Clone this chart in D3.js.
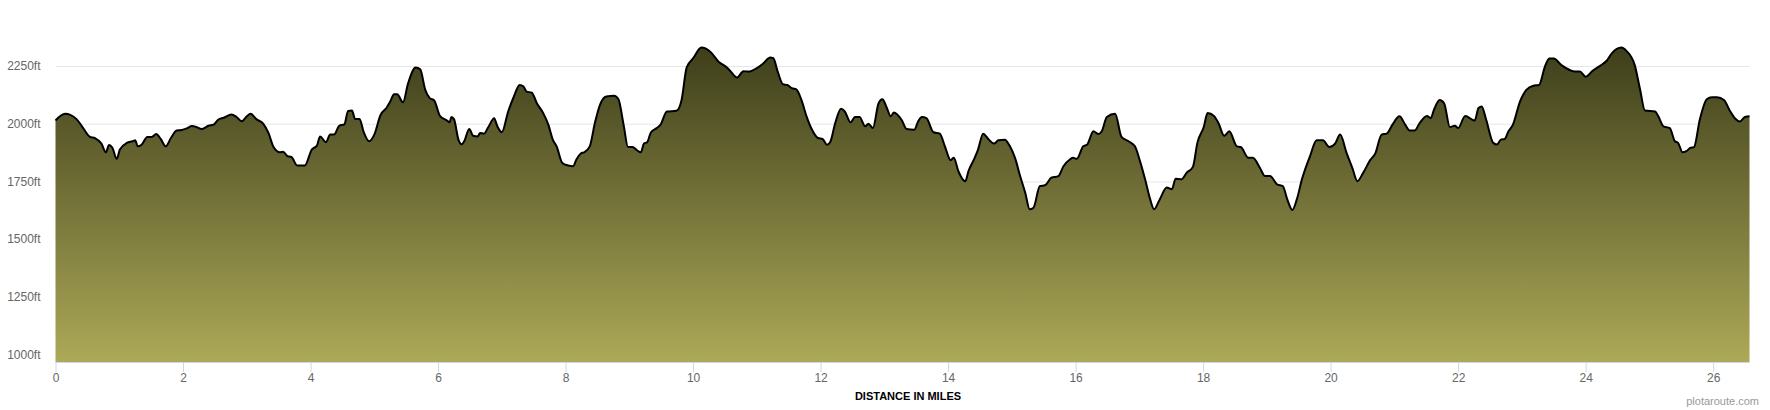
<!DOCTYPE html>
<html>
<head>
<meta charset="utf-8">
<script src="https://cdn.jsdelivr.net/npm/d3@7"></script>
<style>
  body { margin: 0; background: #fff; }
  .chart { width: 1770px; height: 410px; }
  .tick text { font-family: "Liberation Sans", Arial, sans-serif; font-size: 12px; fill: #666; }
</style>
</head>
<body>
<div class="chart"></div>
<script>
const width = 1770;
const height = 410;
const margin = {top: 40, left: 55.5, right: 20.5, bottom: 48} // plot area: x 55.5..1749.5, y 40..362

// distance along the route (miles) and elevation (ft)
const distances = [
  0, 0.15, 0.33, 0.41, 0.54, 0.62, 0.72, 0.79, 0.84, 0.89, 0.96, 1.01, 1.12, 1.21, 1.25, 1.29, 1.35, 1.44, 1.51, 1.58,
  1.65, 1.73, 1.81, 1.9, 1.98, 2.06, 2.14, 2.21, 2.29, 2.4, 2.48, 2.55, 2.64, 2.76, 2.84, 2.92, 3.0, 3.06, 3.15, 3.26,
  3.34, 3.42, 3.52, 3.57, 3.64, 3.7, 3.79, 3.91, 4.02, 4.1, 4.15, 4.24, 4.31, 4.37, 4.45, 4.53, 4.59, 4.65, 4.7, 4.77,
  4.83, 4.92, 5.0, 5.1, 5.19, 5.25, 5.31, 5.36, 5.45, 5.53, 5.65, 5.72, 5.8, 5.87, 5.94, 6.03, 6.14, 6.18, 6.21, 6.25,
  6.32, 6.37, 6.41, 6.49, 6.55, 6.62, 6.66, 6.72, 6.79, 6.88, 6.93, 7.0, 7.1, 7.19, 7.28, 7.34, 7.39, 7.47, 7.55, 7.65,
  7.73, 7.8, 7.86, 7.95, 8.04, 8.12, 8.17, 8.24, 8.29, 8.38, 8.46, 8.54, 8.64, 8.76, 8.83, 8.91, 8.98, 9.05, 9.12, 9.18,
  9.23, 9.28, 9.34, 9.43, 9.49, 9.59, 9.74, 9.82, 9.9, 10.0, 10.13, 10.27, 10.4, 10.53, 10.58, 10.69, 10.79, 10.87, 11.0, 11.1,
  11.21, 11.26, 11.32, 11.41, 11.48, 11.55, 11.62, 11.7, 11.78, 11.86, 11.96, 12.03, 12.1, 12.15, 12.23, 12.32, 12.38, 12.47, 12.54, 12.61,
  12.7, 12.75, 12.82, 12.91, 12.97, 13.04, 13.1, 13.15, 13.27, 13.35, 13.47, 13.53, 13.59, 13.66, 13.77, 13.87, 13.95, 14.04, 14.09, 14.16,
  14.27, 14.32, 14.41, 14.47, 14.55, 14.63, 14.72, 14.79, 14.89, 14.97, 15.05, 15.13, 15.21, 15.28, 15.34, 15.44, 15.52, 15.62, 15.73, 15.81,
  15.91, 15.96, 16.02, 16.12, 16.18, 16.28, 16.36, 16.41, 16.49, 16.62, 16.72, 16.83, 16.93, 17.01, 17.09, 17.17, 17.23, 17.32, 17.43, 17.51,
  17.57, 17.66, 17.74, 17.84, 17.91, 18.01, 18.07, 18.17, 18.24, 18.33, 18.41, 18.53, 18.59, 18.71, 18.78, 18.89, 18.97, 19.05, 19.16, 19.25,
  19.32, 19.4, 19.47, 19.55, 19.68, 19.78, 19.88, 19.98, 20.07, 20.15, 20.25, 20.34, 20.42, 20.51, 20.62, 20.7, 20.8, 20.88, 20.97, 21.08,
  21.17, 21.24, 21.32, 21.39, 21.51, 21.57, 21.62, 21.71, 21.78, 21.87, 21.95, 22.0, 22.11, 22.26, 22.32, 22.37, 22.44, 22.55, 22.61, 22.67,
  22.73, 22.79, 22.86, 22.97, 23.07, 23.18, 23.27, 23.36, 23.43, 23.5, 23.62, 23.75, 23.83, 23.91, 24.0, 24.11, 24.22, 24.33, 24.41, 24.56,
  24.64, 24.77, 24.85, 24.93, 25.09, 25.14, 25.22, 25.32, 25.4, 25.45, 25.52, 25.58, 25.64, 25.7, 25.79, 25.9, 25.98, 26.06, 26.17, 26.26,
  26.34, 26.42, 26.5, 26.57
]
const elevations = [
  2014, 2043, 2020, 1991, 1943, 1937, 1914, 1876, 1908, 1897, 1848, 1888, 1917, 1924, 1928, 1902, 1909, 1943, 1943, 1955,
  1934, 1902, 1938, 1971, 1973, 1980, 1990, 1986, 1977, 1991, 1996, 2017, 2026, 2040, 2029, 2011, 2032, 2043, 2020, 1999,
  1960, 1899, 1876, 1879, 1859, 1856, 1819, 1819, 1888, 1905, 1945, 1920, 1953, 1953, 1991, 1997, 2055, 2057, 2020, 2020,
  1967, 1924, 1953, 2039, 2068, 2096, 2128, 2128, 2093, 2175, 2244, 2236, 2147, 2111, 2101, 2034, 2014, 2006, 2029, 2020,
  1931, 1911, 1924, 1977, 1948, 1945, 1960, 1957, 1986, 2024, 1989, 1963, 2053, 2118, 2168, 2161, 2139, 2135, 2089, 2046,
  1996, 1931, 1902, 1830, 1819, 1816, 1845, 1871, 1876, 1902, 2003, 2082, 2118, 2121, 2106, 1996, 1899, 1899, 1885, 1876,
  1914, 1920, 1963, 1981, 1996, 2053, 2056, 2103, 2244, 2283, 2330, 2312, 2269, 2244, 2230, 2200, 2228, 2226, 2241, 2261,
  2287, 2284, 2233, 2171, 2168, 2154, 2149, 2103, 2032, 1977, 1938, 1934, 1909, 1920, 2003, 2065, 2053, 2006, 2029, 2029,
  1989, 2000, 1981, 2089, 2106, 2068, 2032, 2049, 2017, 1977, 1974, 2010, 2029, 2024, 1963, 1957, 1902, 1842, 1852, 1795,
  1751, 1795, 1848, 1888, 1957, 1934, 1914, 1928, 1931, 1902, 1852, 1773, 1701, 1629, 1636, 1730, 1733, 1766, 1773, 1816,
  1845, 1852, 1848, 1902, 1909, 1967, 1955, 1967, 2029, 2043, 1943, 1924, 1902, 1838, 1759, 1672, 1629, 1672, 1723, 1716,
  1761, 1759, 1787, 1813, 1917, 1986, 2046, 2034, 2003, 1948, 1967, 1902, 1899, 1852, 1852, 1809, 1773, 1773, 1737, 1730,
  1672, 1626, 1672, 1759, 1862, 1928, 1928, 1899, 1914, 1953, 1874, 1809, 1751, 1787, 1842, 1871, 1953, 1957, 1996, 2032,
  1996, 1971, 1971, 2000, 2034, 2024, 2060, 2103, 2089, 1986, 1991, 1981, 2034, 2014, 2068, 2075, 2017, 1917, 1910, 1931,
  1934, 1967, 1996, 2096, 2147, 2165, 2168, 2247, 2283, 2283, 2254, 2233, 2226, 2226, 2204, 2230, 2250, 2273, 2305, 2330,
  2316, 2254, 2154, 2057, 2053, 2032, 1989, 1981, 1924, 1917, 1876, 1881, 1895, 1899, 2017, 2106, 2115, 2115, 2103, 2057,
  2024, 2010, 2029, 2032
]
const xTicks = [0, 2, 4, 6, 8, 10, 12, 14, 16, 18, 20, 22, 24, 26]
const yTicks = [1000, 1250, 1500, 1750, 2000, 2250]
const xAxisLabel = 'DISTANCE IN MILES'
const credit = 'plotaroute.com'

const data = distances.map((d, i) => ({dist: d, elev: elevations[i]}))

const svg = d3.select('.chart')
  .append('svg')
  .attr('width', width)
  .attr('height', height)

const xScale = d3.scaleLinear()
  .domain([0, d3.max(distances)])
  .range([margin.left, width - margin.right])

const yScale = d3.scaleLinear()
  .domain([967, 2363])
  .range([height - margin.bottom, margin.top])

// fill gradient, dark at the top of the profile, light olive at the bottom
const grad = svg.append('defs').append('linearGradient')
  .attr('id', 'fillGrad')
  .attr('x1', 0).attr('y1', 0).attr('x2', 0).attr('y2', 1)
grad.append('stop').attr('offset', '0%').attr('stop-color', '#3e3e1b')
grad.append('stop').attr('offset', '100%').attr('stop-color', '#aca957')

// y axis: labels + gridlines (drawn first so the area covers them)
const yAxis = d3.axisLeft(yScale)
  .tickValues(yTicks)
  .tickFormat(d => d + 'ft')
  .tickSize(-(width - margin.left - margin.right))
  .tickPadding(15)

svg.append('g')
  .attr('transform', `translate(${margin.left},0)`)
  .call(yAxis)
  .call(g => g.select('.domain').remove())
  .call(g => g.selectAll('.tick line').attr('stroke', '#e6e6e6'))

const area = d3.area()
  .x(d => xScale(d.dist))
  .y0(yScale(967))
  .y1(d => yScale(d.elev))
  .curve(d3.curveMonotoneX)

const line = d3.line()
  .x(d => xScale(d.dist))
  .y(d => yScale(d.elev))
  .curve(d3.curveMonotoneX)

svg.append('path')
  .datum(data)
  .attr('d', area)
  .attr('fill', 'url(#fillGrad)')

svg.append('path')
  .datum(data)
  .attr('d', line)
  .attr('fill', 'none')
  .attr('stroke', '#000')
  .attr('stroke-width', 2)
  .attr('stroke-linejoin', 'round')

// x axis
const xAxis = d3.axisBottom(xScale)
  .tickValues(xTicks)
  .tickSize(10)
  .tickPadding(1)

svg.append('g')
  .attr('transform', `translate(0,${height - margin.bottom})`)
  .call(xAxis)
  .call(g => g.select('.domain').attr('stroke', '#ccd6eb').attr('d', `M${margin.left},0.5H${width - margin.right}`))
  .call(g => g.selectAll('.tick line').attr('stroke', '#ccd6eb'))

svg.append('text')
  .attr('x', 908)
  .attr('y', 400)
  .attr('text-anchor', 'middle')
  .style('font-family', '"Liberation Sans", Arial, sans-serif')
  .style('font-size', '11px')
  .style('font-weight', 'bold')
  .style('fill', '#000')
  .text(xAxisLabel)

svg.append('text')
  .attr('x', 1759)
  .attr('y', 405)
  .attr('text-anchor', 'end')
  .style('font-family', '"Liberation Sans", Arial, sans-serif')
  .style('font-size', '11px')
  .style('fill', '#999')
  .text(credit)
</script>
</body>
</html>
